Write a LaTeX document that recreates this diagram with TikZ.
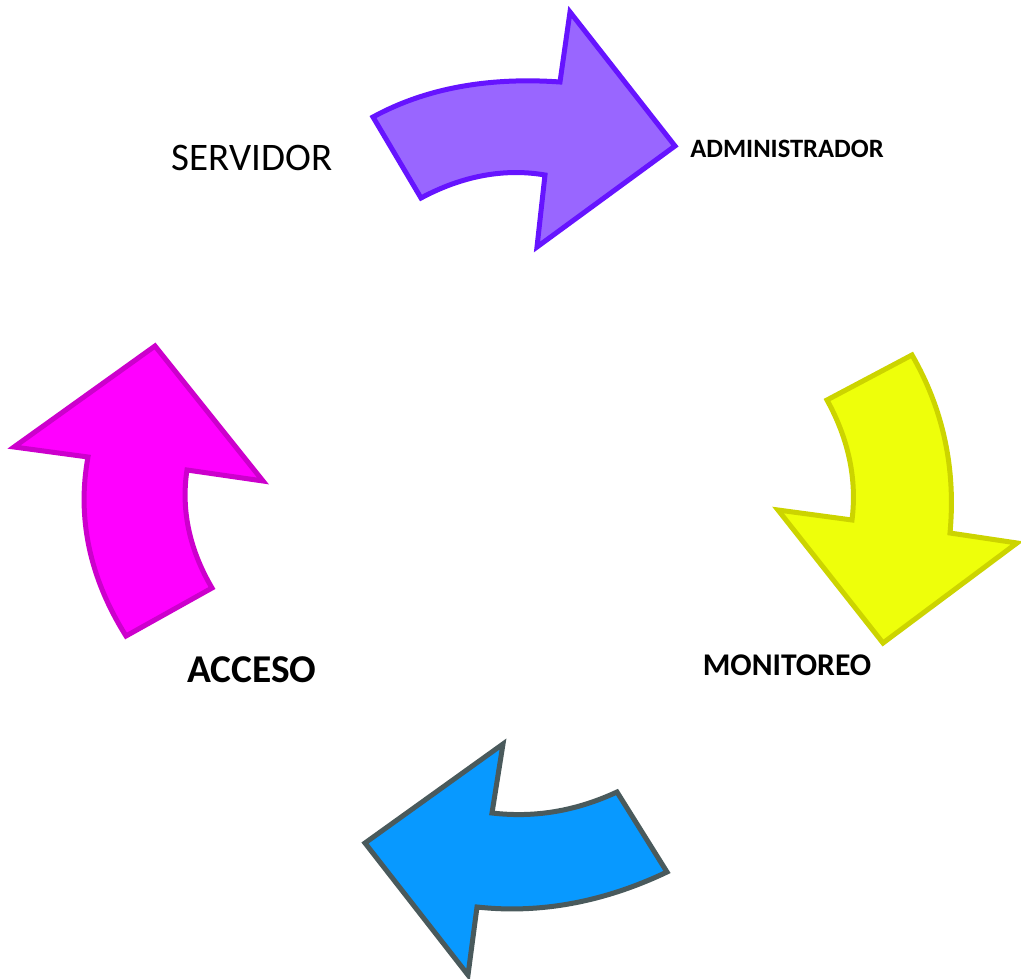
\documentclass[tikz,border=0pt]{standalone}
\usepackage{fontspec}
\setmainfont{Carlito}
\definecolor{purpfill}{HTML}{9966FF}
\definecolor{purpline}{HTML}{6614FF}
\definecolor{yelfill}{HTML}{EEFF0A}
\definecolor{yelline}{HTML}{CCD400}
\definecolor{bluefill}{HTML}{0899FF}
\definecolor{blueline}{HTML}{4A5A5C}
\definecolor{magfill}{HTML}{FF00FF}
\definecolor{magline}{HTML}{CC00CC}
\tikzset{
  curvearrow/.style={line width=5pt, line join=miter},
  lbl/.style={inner sep=0pt, anchor=center, text=black}
}
\begin{document}
\begin{tikzpicture}[x=1pt,y=-1pt]
\useasboundingbox (0,0) rectangle (1021,979);
% purple arrow
\draw[curvearrow, fill=purpfill, draw=purpline]
  (373,117) -- (421,198) .. controls (462,176) and (504,168) .. (545,175)
  -- (537,247) -- (675,146) -- (570,12) -- (560,82)
  .. controls (489,77) and (426,88) .. (373,117) -- cycle;
% yellow arrow
\draw[curvearrow, fill=yelfill, draw=yelline]
  (827,400) -- (912,355) .. controls (943,409) and (956,468) .. (950,533)
  -- (1017,543) -- (883,643) -- (778,510) -- (852,520)
  .. controls (857,480) and (849,440) .. (827,400) -- cycle;
% blue arrow
\draw[curvearrow, fill=bluefill, draw=blueline]
  (365,843) -- (503,744) -- (492,813) .. controls (535,818) and (576,811) .. (617,792)
  -- (667,872) .. controls (604,902) and (540,914) .. (477,907)
  -- (468,975) -- cycle;
% magenta arrow
\draw[curvearrow, fill=magfill, draw=magline]
  (155,346) -- (263,481) -- (187,470) .. controls (181,509) and (189,549) .. (212,588)
  -- (126,636) .. controls (89,577) and (77,517) .. (88,457)
  -- (14,447) -- cycle;
% labels
\node[lbl, font=\fontsize{39}{44}\selectfont] (servidor) at (252,158) {SERVIDOR};
\node[lbl, font=\bfseries\fontsize{26.5}{30}\selectfont] (admin) at (787,149) {ADMINISTRADOR};
\node[lbl, font=\bfseries\fontsize{31.6}{36}\selectfont] (monit) at (787,665) {MONITOREO};
\node[lbl, font=\bfseries\fontsize{39.4}{44}\selectfont] (acceso) at (252,670) {ACCESO};
\end{tikzpicture}
\end{document}
